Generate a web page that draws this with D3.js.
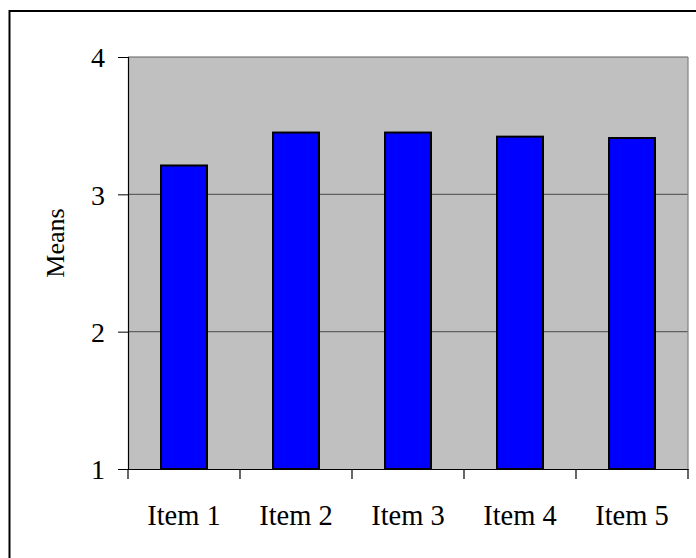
<!DOCTYPE html>
<html><head><meta charset="utf-8">
<script src="https://cdn.jsdelivr.net/npm/d3@7"></script>
<style>body{margin:0;background:#fff}svg{display:block}</style>
</head><body>
<script>
const categories = ["Item 1","Item 2","Item 3","Item 4","Item 5"];
const means = [3.21, 3.45, 3.45, 3.42, 3.41];
const yTicks = [1,2,3,4];

const W = 696, H = 558;
const svg = d3.select("body").append("svg").attr("width", W).attr("height", H);
svg.append("rect").attr("x", 9.5).attr("y", 11).attr("width", 720).attr("height", 600)
  .attr("fill", "#fff").attr("stroke", "#000").attr("stroke-width", 2);

const L = 128, R = 688, T = 57, B = 469;
const xc = d3.scaleBand().domain(categories).range([L, R]);
const y = d3.scaleLinear().domain([1, 4]).range([B, T]);

svg.append("rect").attr("x", L).attr("y", T).attr("width", R - L).attr("height", B - T).attr("fill", "#c0c0c0");
svg.append("g").selectAll("line").data(yTicks.filter(d => d > 1)).join("line")
  .attr("x1", L).attr("x2", R).attr("y1", d => y(d)).attr("y2", d => y(d))
  .attr("stroke", "#606060").attr("stroke-width", 1.2);
svg.append("line").attr("x1", R).attr("x2", R).attr("y1", T).attr("y2", B).attr("stroke", "#808080").attr("stroke-width", 1.2);

svg.append("g").selectAll("rect").data(means).join("rect")
  .attr("x", (d, i) => xc(categories[i]) + xc.bandwidth() / 2 - 23)
  .attr("width", 46)
  .attr("y", d => y(d)).attr("height", d => y(1) - y(d))
  .attr("fill", "#0000ff").attr("stroke", "#000").attr("stroke-width", 2);

const serif = "'Liberation Serif','Times New Roman',serif";
const yAxis = svg.append("g").attr("transform", `translate(${L},0)`)
  .call(d3.axisLeft(y).tickValues(yTicks).tickSize(10).tickPadding(13).tickFormat(d3.format("d")));
const xAxis = svg.append("g").attr("transform", `translate(0,${B})`)
  .call(d3.axisBottom(xc).tickSize(0).tickPadding(0));
[yAxis, xAxis].forEach(g => {
  g.attr("font-size", null).attr("font-family", null);
  g.select(".domain").attr("stroke", "#000").attr("stroke-width", 1.2);
  g.selectAll("text").style("font-family", serif).attr("fill", "#000");
});
yAxis.selectAll("line").attr("stroke", "#000");
yAxis.selectAll("text").style("font-size", "28px").attr("dy", "0.35em");
xAxis.selectAll("text").style("font-size", "28.5px").attr("y", 56).attr("dy", 0);
svg.append("g").selectAll("line").data(d3.range(categories.length + 1)).join("line")
  .attr("x1", i => L + i * xc.step()).attr("x2", i => L + i * xc.step())
  .attr("y1", B).attr("y2", B + 10).attr("stroke", "#000").attr("stroke-width", 1.2);

svg.append("text").attr("transform", "translate(64,243) rotate(-90)")
  .attr("text-anchor", "middle").style("font-family", serif)
  .style("font-size", "26px").text("Means");
</script>
</body></html>
